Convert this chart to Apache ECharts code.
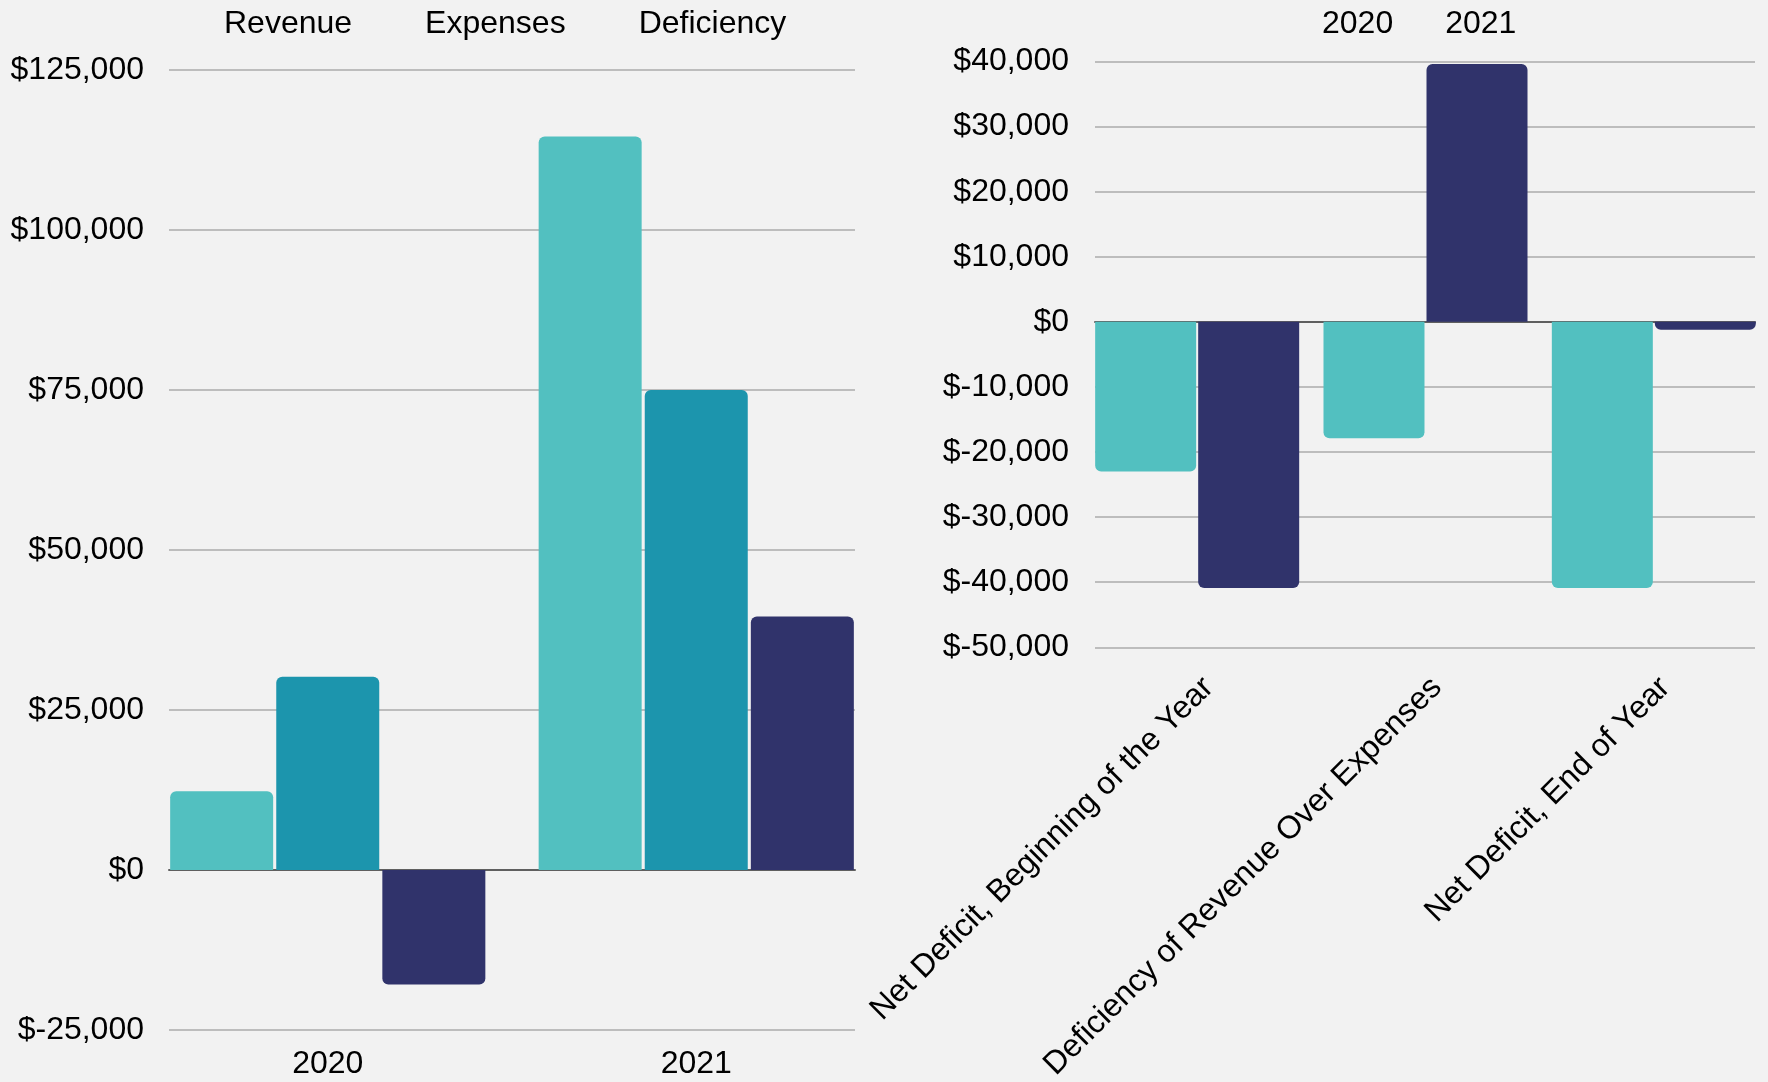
<!DOCTYPE html>
<html>
<head>
<meta charset="utf-8">
<script src="https://cdn.jsdelivr.net/npm/echarts@6/dist/echarts.min.js"></script>
<style>
  html, body { margin: 0; padding: 0; background: #f2f2f2; }
  #chart { width: 1768px; height: 1082px; }
</style>
</head>
<body>
<div id="chart"></div>
<script>
// ---- Data ----
const years = ['2020', '2021'];
const revenue = [12300, 114600];
const expenses = [30200, 75000];
const deficiency = [-17900, 39600];

const netCategories = ['Net Deficit, Beginning of the Year', 'Deficiency of Revenue Over Expenses', 'Net Deficit, End of Year'];
const net2020 = [-23000, -17900, -40900];
const net2021 = [-40900, 39600, -1200];

const leftTicks = { min: -25000, max: 125000, interval: 25000 };
const rightTicks = { min: -50000, max: 40000, interval: 10000 };

// ---- Styles ----
const FONT = "'Liberation Sans', Arial, sans-serif";
const C_REV = '#52C0C0', C_EXP = '#1C95AD', C_DEF = '#30336B';
const fmt = v => '$' + v.toLocaleString('en-US');
const rounded = arr => arr.map(v => ({ value: v, itemStyle: { borderRadius: v >= 0 ? [6, 6, 0, 0] : [0, 0, 6, 6] } }));

const chart = echarts.init(document.getElementById('chart'));

const hiddenValueAxis = (gi, t) => ({ type: 'value', gridIndex: gi, min: t.min, max: t.max, interval: t.interval, show: false });
const labelledValueAxis = (gi, t, margin) => ({
  type: 'value', gridIndex: gi, min: t.min, max: t.max, interval: t.interval,
  axisLine: { show: false }, axisTick: { show: false },
  axisLabel: { formatter: fmt, fontSize: 32, color: '#000', fontFamily: FONT, margin: margin },
  splitLine: { show: true, lineStyle: { color: '#ababab', width: 1.5 } }
});
const zeroLineAxis = gi => ({
  type: 'category', gridIndex: gi, data: ['x'],
  axisLine: { show: true, onZero: true, lineStyle: { color: '#5f5f5f', width: 2 } },
  axisTick: { show: false }, axisLabel: { show: false }, splitLine: { show: false }
});

const option = {
  backgroundColor: '#f2f2f2',
  animation: false,
  textStyle: { fontFamily: FONT },
  legend: [
    {
      data: ['Revenue', 'Expenses', 'Deficiency'],
      left: 214, top: 3, itemWidth: 0, itemHeight: 32, itemGap: 68,
      icon: 'rect',
      textStyle: { fontSize: 32, color: '#000', fontFamily: FONT }
    },
    {
      data: ['2020', '2021'],
      left: 1312, top: 3, itemWidth: 0, itemHeight: 32, itemGap: 47,
      icon: 'rect',
      textStyle: { fontSize: 32, color: '#000', fontFamily: FONT }
    }
  ],
  grid: [
    { left: 169, top: 70, width: 686, height: 960, containLabel: false, outerBoundsMode: 'none' },
    { left: 143.5, top: 70, width: 737, height: 960, containLabel: false, outerBoundsMode: 'none' },
    { left: 1095, top: 61.5, width: 660, height: 585.8, containLabel: false, outerBoundsMode: 'none' },
    { left: 1083, top: 61.5, width: 685, height: 585.8, containLabel: false, outerBoundsMode: 'none' }
  ],
  xAxis: [
    zeroLineAxis(0),
    {
      type: 'category', gridIndex: 1, data: years,
      axisLine: { show: false, onZero: false }, axisTick: { show: false },
      axisLabel: { fontSize: 32, color: '#000', fontFamily: FONT, margin: 18 }
    },
    zeroLineAxis(2),
    {
      type: 'category', gridIndex: 3, data: netCategories,
      axisLine: { show: false, onZero: false }, axisTick: { show: false },
      axisLabel: { fontSize: 32, color: '#000', fontFamily: FONT, rotate: 45, interval: 0, margin: 24, verticalAlign: 'top' }
    }
  ],
  yAxis: [
    labelledValueAxis(0, leftTicks, 25),
    hiddenValueAxis(1, leftTicks),
    labelledValueAxis(2, rightTicks, 26),
    hiddenValueAxis(3, rightTicks)
  ],
  series: [
    { name: 'Revenue', type: 'bar', xAxisIndex: 1, yAxisIndex: 1, data: rounded(revenue), barWidth: 103, barGap: '3%', itemStyle: { color: C_REV } },
    { name: 'Expenses', type: 'bar', xAxisIndex: 1, yAxisIndex: 1, data: rounded(expenses), barWidth: 103, barGap: '3%', itemStyle: { color: C_EXP } },
    { name: 'Deficiency', type: 'bar', xAxisIndex: 1, yAxisIndex: 1, data: rounded(deficiency), barWidth: 103, barGap: '3%', itemStyle: { color: C_DEF } },
    { name: '2020', type: 'bar', xAxisIndex: 3, yAxisIndex: 3, data: rounded(net2020), barWidth: 101, barGap: '2%', itemStyle: { color: C_REV } },
    { name: '2021', type: 'bar', xAxisIndex: 3, yAxisIndex: 3, data: rounded(net2021), barWidth: 101, barGap: '2%', itemStyle: { color: C_DEF } }
  ]
};
chart.setOption(option);
</script>
</body>
</html>
